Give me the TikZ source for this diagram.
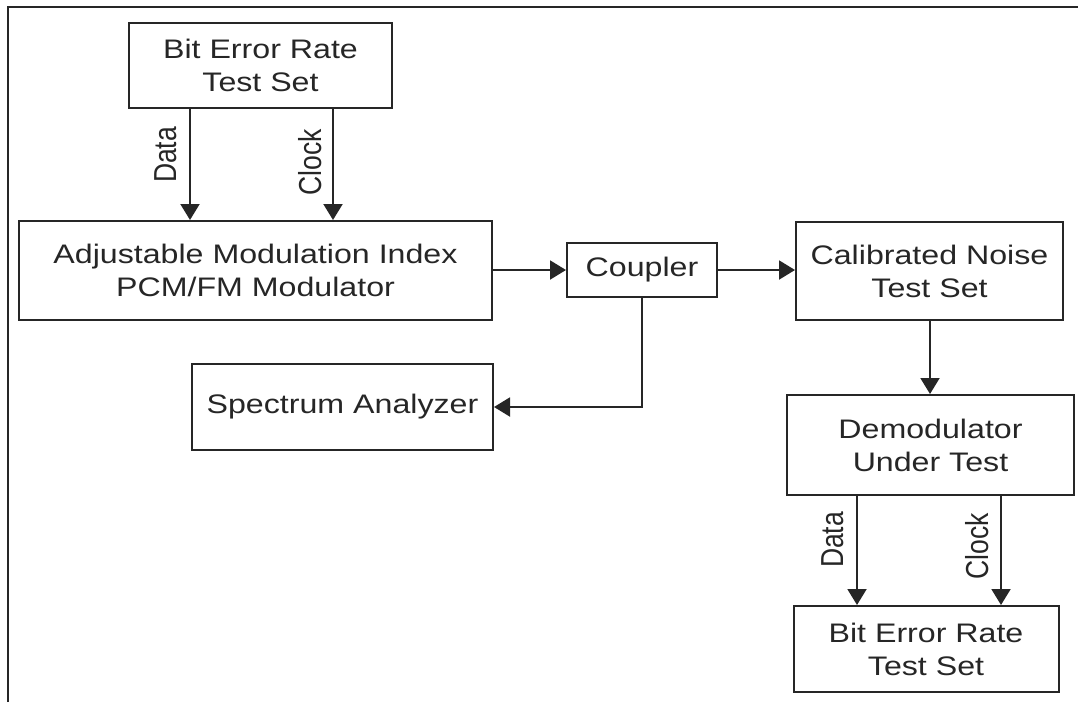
\documentclass[tikz,border=0pt]{standalone}
\usepackage{fontspec}
\setmainfont{Liberation Sans}[FakeStretch=1.2]
\newfontfamily\rotfont{Liberation Sans}
\usetikzlibrary{arrows.meta,calc}
\definecolor{ink}{HTML}{262626}
\tikzset{
  box/.style={draw=ink, line width=2pt, rectangle, inner sep=0pt, align=center,
    text=ink, font=\fontsize{26.8}{33}\selectfont},
  arr/.style={draw=ink, line width=2pt, -{Triangle[length=16pt,width=19pt]}},
  lbl/.style={rotate=90, inner sep=0pt, text=ink, font=\rotfont\fontsize{26.5}{30}\selectfont},
}
\newcommand{\vstr}[1]{\scalebox{1}[1.2]{#1}}
\begin{document}
\begin{tikzpicture}[x=1pt,y=-1pt]
\useasboundingbox (0,0) rectangle (1078,702);
\coordinate (tl) at (8,7);
\coordinate (tr) at (1078,7);
\coordinate (bl) at (8,702);
\draw[draw=ink, line width=2pt] (bl) -- (tl) -- (tr);

\node[box, minimum width=263pt, minimum height=85pt] (bert1) at (260.5,65.5) {Bit Error Rate\\Test Set};
\node[box, minimum width=473pt, minimum height=99pt] (mod) at (255.5,270.5) {Adjustable Modulation Index\\PCM/FM Modulator};
\node[box, minimum width=150pt, minimum height=54pt] (coup) at (642,270) {Coupler};
\node[box, minimum width=267pt, minimum height=98pt] (noise) at (929.5,271) {Calibrated Noise\\Test Set};
\node[box, minimum width=301pt, minimum height=86pt] (spec) at (342.5,407) {Spectrum Analyzer};
\node[box, minimum width=287pt, minimum height=100pt] (demod) at (930.5,445) {Demodulator\\Under Test};
\node[box, minimum width=265pt, minimum height=86pt] (bert2) at (926,649) {Bit Error Rate\\Test Set};

\coordinate (d1) at (190,0);
\coordinate (c1) at (333,0);
\coordinate (d2) at (857,0);
\coordinate (c2) at (1001,0);
\coordinate (nx) at (930,0);

\draw[arr] (bert1.south -| d1) -- (mod.north -| d1);
\draw[arr] (bert1.south -| c1) -- (mod.north -| c1);
\draw[arr] (mod.east |- coup.west) -- (coup.west);
\draw[arr] (coup.east) -- (coup.east -| noise.west);
\draw[arr] (coup.south) |- (spec.east);
\draw[arr] (noise.south -| nx) -- (demod.north -| nx);
\draw[arr] (demod.south -| d2) -- (bert2.north -| d2);
\draw[arr] (demod.south -| c2) -- (bert2.north -| c2);

\node[lbl] (ld1) at (166,155) {\vstr{Data}};
\node[lbl] (lc1) at (310,162) {\vstr{Clock}};
\node[lbl] (ld2) at (833,540) {\vstr{Data}};
\node[lbl] (lc2) at (977,546) {\vstr{Clock}};
\end{tikzpicture}
\end{document}
